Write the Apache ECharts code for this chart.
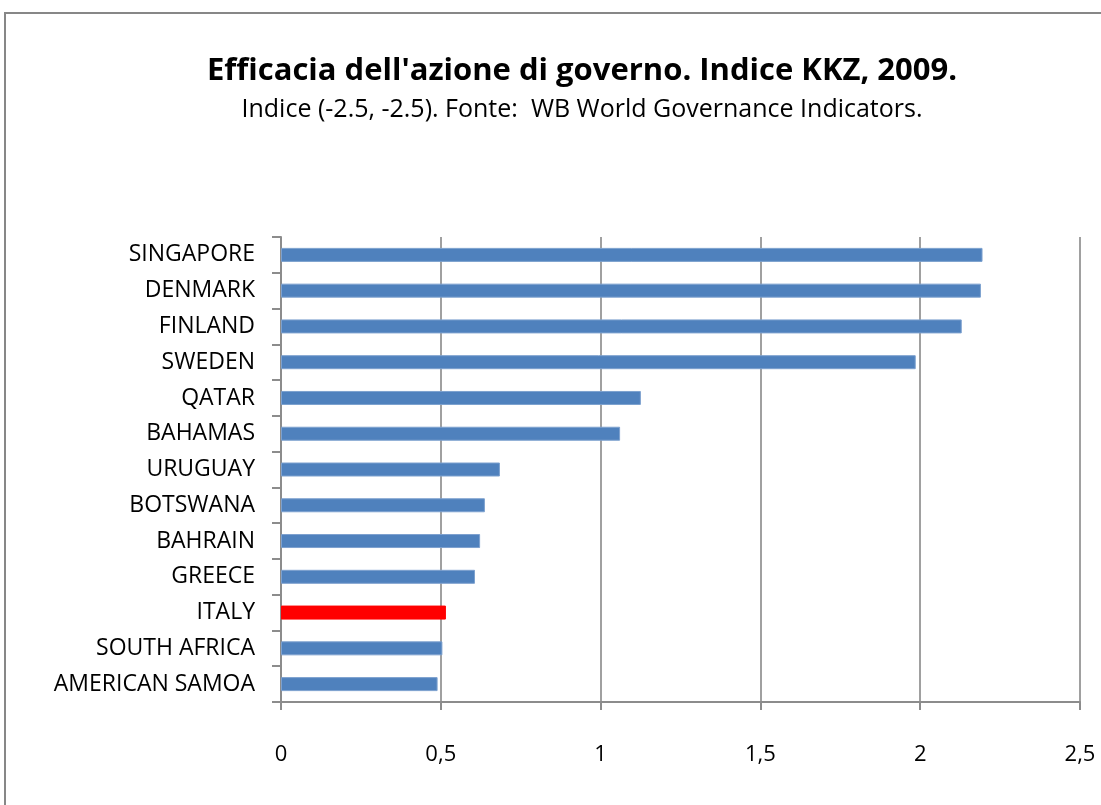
<!DOCTYPE html>
<html>
<head>
<meta charset="utf-8">
<script src="https://cdn.jsdelivr.net/npm/echarts@6/dist/echarts.min.js"></script>
<style>
  html, body { margin: 0; padding: 0; background: #fff; }
  #chart { width: 1101px; height: 805px; }
</style>
</head>
<body>
<div id="chart"></div>
<script>
const countries = ['SINGAPORE', 'DENMARK', 'FINLAND', 'SWEDEN', 'QATAR', 'BAHAMAS', 'URUGUAY',
  'BOTSWANA', 'BAHRAIN', 'GREECE', 'ITALY', 'SOUTH AFRICA', 'AMERICAN SAMOA']
const values = [2.195, 2.19, 2.13, 1.986, 1.126, 1.061, 0.685, 0.638, 0.623, 0.607, 0.516, 0.505, 0.49]
const highlight = 'ITALY'
const xTicks = [0, 0.5, 1, 1.5, 2, 2.5]

const font = 'Open Sans'
const chart = echarts.init(document.getElementById('chart'))

chart.setOption({
  animation: false,
  title: {
    text: "Efficacia dell'azione di governo. Indice KKZ, 2009.",
    subtext: 'Indice (-2.5, -2.5). Fonte:  WB World Governance Indicators.',
    left: 577,
    textAlign: 'center',
    top: 51,
    itemGap: 10,
    textStyle: { fontFamily: font, fontSize: 31, fontWeight: 'bold', color: '#000' },
    subtextStyle: { fontFamily: font, fontSize: 25, color: '#000' }
  },
  graphic: [{
    type: 'rect',
    shape: { x: 5, y: 13, width: 1110, height: 810 },
    style: { fill: 'none', stroke: '#878787', lineWidth: 2 },
    silent: true
  }],
  grid: { left: 281, right: 21, top: 237, bottom: 103 },
  xAxis: {
    type: 'value',
    min: xTicks[0],
    max: xTicks[xTicks.length - 1],
    interval: 0.5,
    axisLine: { show: true, lineStyle: { color: '#8c8c8c', width: 2 } },
    axisTick: { show: true, length: 8, lineStyle: { color: '#8c8c8c', width: 2 } },
    splitLine: { show: true, lineStyle: { color: '#a0a0a0', width: 2 } },
    axisLabel: {
      margin: 42,
      fontFamily: font,
      fontSize: 22,
      color: '#000',
      formatter: (v) => String(v).replace('.', ',')
    }
  },
  yAxis: {
    type: 'category',
    inverse: true,
    data: countries,
    axisLine: { show: true, lineStyle: { color: '#8c8c8c', width: 2 } },
    axisTick: { show: true, length: 9, lineStyle: { color: '#8c8c8c', width: 2 } },
    axisLabel: { margin: 26, fontFamily: font, fontSize: 23, color: '#000' }
  },
  series: [{
    type: 'bar',
    barWidth: 14,
    data: values.map((v, i) => ({
      value: v,
      itemStyle: {
        color: countries[i] === highlight ? '#ff0000' : '#4f81bd',
        borderColor: countries[i] === highlight ? '#ff0000' : '#7da1cf',
        borderWidth: 1
      }
    }))
  }]
})
</script>
</body>
</html>
